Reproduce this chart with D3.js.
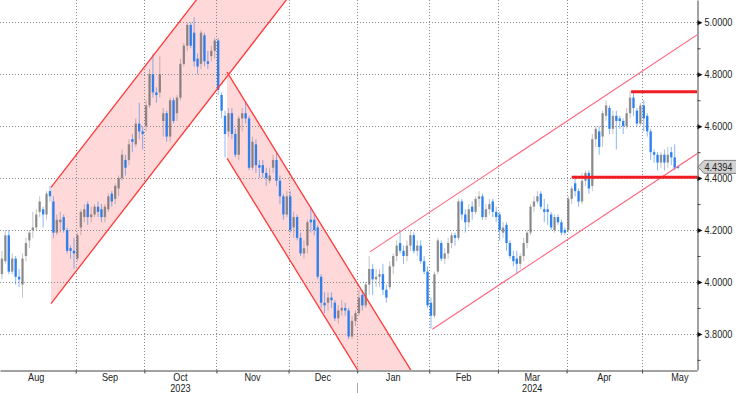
<!DOCTYPE html>
<html>
<head>
<meta charset="utf-8">
<script src="https://cdn.jsdelivr.net/npm/d3@7"></script>
<style>
  html, body { margin: 0; padding: 0; background: #fff; }
  svg { display: block; font-family: "Liberation Sans Narrow", "Arial Narrow", "Liberation Sans", Arial, sans-serif; }
</style>
</head>
<body>
<div id="mount"></div>
<script>
'use strict';

// days with no bar on the time axis
const holidays = ['2023-09-04', '2023-10-09', '2023-11-23', '2023-12-25',
                  '2024-01-01', '2024-01-15', '2024-02-19', '2024-03-29', '2024-05-27'];

// daily bars: [open, high, low, close]
const aug23 = [
  [3.96,4.06,3.95,4.04],[4.03,4.12,4.01,4.09],[4.08,4.20,4.07,4.18],[4.18,4.20,4.03,4.04],
  [4.04,4.11,4.03,4.09],[4.09,4.10,3.99,4.02],[4.02,4.05,3.98,4.01],[3.99,4.11,3.94,4.09],
  [4.10,4.17,4.08,4.15],[4.16,4.20,4.13,4.19],[4.20,4.27,4.17,4.21],[4.21,4.28,4.20,4.26],
  [4.27,4.33,4.25,4.31],[4.28,4.29,4.21,4.26],[4.26,4.35,4.24,4.34],[4.35,4.37,4.31,4.33],
  [4.31,4.33,4.17,4.19],[4.19,4.26,4.18,4.24],[4.23,4.27,4.19,4.24],[4.25,4.26,4.19,4.20],
  [4.20,4.21,4.11,4.12],[4.13,4.14,4.09,4.12],[4.12,4.17,4.05,4.11]
];
const sep23 = [
  [4.09,4.19,4.08,4.18],[4.21,4.28,4.18,4.27],[4.25,4.30,4.23,4.28],[4.30,4.31,4.22,4.25],
  [4.25,4.29,4.23,4.26],[4.26,4.30,4.25,4.29],[4.29,4.31,4.25,4.27],[4.28,4.30,4.23,4.25],
  [4.25,4.30,4.23,4.29],[4.28,4.34,4.27,4.33],[4.34,4.35,4.29,4.31],[4.32,4.38,4.30,4.37],
  [4.36,4.41,4.33,4.40],[4.40,4.51,4.39,4.49],[4.47,4.49,4.41,4.44],[4.47,4.55,4.45,4.53],
  [4.55,4.57,4.50,4.54],[4.53,4.63,4.52,4.61],[4.61,4.69,4.55,4.58],[4.58,4.60,4.51,4.57]
];
const oct23 = [
  [4.60,4.70,4.58,4.68],[4.68,4.82,4.67,4.80],[4.80,4.88,4.71,4.73],[4.73,4.75,4.69,4.72],
  [4.73,4.87,4.71,4.80],[4.62,4.67,4.56,4.65],[4.65,4.66,4.54,4.56],[4.56,4.71,4.54,4.70],
  [4.70,4.71,4.61,4.62],[4.65,4.72,4.62,4.71],[4.71,4.86,4.70,4.84],[4.84,4.92,4.83,4.91],
  [4.91,5.00,4.89,4.99],[4.99,5.00,4.90,4.91],[4.96,5.02,4.83,4.85],[4.86,4.88,4.80,4.83],
  [4.84,4.97,4.82,4.96],[4.95,4.96,4.83,4.85],[4.85,4.89,4.82,4.84],[4.87,4.91,4.85,4.89],
  [4.89,4.94,4.86,4.93]
];
const nov23 = [
  [4.93,4.94,4.72,4.74],[4.72,4.73,4.63,4.66],[4.64,4.66,4.48,4.57],[4.58,4.67,4.56,4.65],
  [4.65,4.67,4.55,4.57],[4.57,4.59,4.48,4.49],[4.49,4.64,4.47,4.63],[4.63,4.67,4.58,4.65],
  [4.65,4.69,4.61,4.63],[4.63,4.64,4.43,4.44],[4.44,4.56,4.43,4.54],[4.53,4.55,4.42,4.45],
  [4.45,4.47,4.40,4.44],[4.45,4.47,4.40,4.42],[4.42,4.44,4.37,4.40],[4.39,4.44,4.38,4.41],
  [4.44,4.49,4.42,4.47],[4.47,4.50,4.37,4.39],[4.39,4.41,4.30,4.33],[4.33,4.34,4.24,4.26],
  [4.26,4.35,4.25,4.33]
];
const dec23 = [
  [4.33,4.35,4.19,4.20],[4.21,4.27,4.17,4.25],[4.25,4.26,4.16,4.17],[4.17,4.19,4.10,4.11],
  [4.11,4.16,4.09,4.13],[4.14,4.24,4.11,4.23],[4.24,4.29,4.19,4.23],[4.24,4.26,4.18,4.20],
  [4.21,4.22,4.01,4.02],[4.02,4.03,3.90,3.92],[3.92,3.96,3.88,3.91],[3.92,3.96,3.89,3.94],
  [3.94,3.96,3.90,3.93],[3.92,3.93,3.85,3.86],[3.86,3.91,3.84,3.89],[3.89,3.93,3.87,3.90],
  [3.90,3.92,3.87,3.89],[3.89,3.90,3.78,3.79],[3.79,3.87,3.78,3.85],[3.85,3.89,3.83,3.88]
];
const jan24 = [
  [3.88,3.97,3.87,3.94],[3.95,3.97,3.89,3.91],[3.91,4.00,3.90,3.99],[3.99,4.10,3.95,4.05],
  [4.05,4.07,3.95,4.01],[4.01,4.05,3.98,4.02],[4.02,4.05,3.98,4.03],[4.03,4.07,3.95,3.97],
  [3.97,3.99,3.92,3.94],[3.98,4.08,3.97,4.06],[4.06,4.11,4.03,4.10],[4.10,4.16,4.08,4.14],
  [4.15,4.20,4.11,4.12],[4.12,4.14,4.07,4.10],[4.10,4.16,4.08,4.14],[4.14,4.20,4.12,4.18],
  [4.18,4.19,4.11,4.12],[4.12,4.16,4.10,4.14],[4.14,4.16,4.07,4.08],[4.08,4.10,4.03,4.04],
  [4.04,4.06,3.90,3.91]
];
const feb24 = [
  [3.92,3.94,3.82,3.87],[3.87,4.04,3.86,4.03],[4.04,4.17,4.03,4.16],[4.15,4.16,4.08,4.09],
  [4.09,4.13,4.07,4.11],[4.11,4.17,4.09,4.15],[4.15,4.19,4.13,4.18],[4.18,4.19,4.14,4.17],
  [4.17,4.32,4.16,4.31],[4.31,4.32,4.24,4.26],[4.26,4.28,4.19,4.23],[4.23,4.30,4.21,4.28],
  [4.29,4.31,4.24,4.27],[4.27,4.33,4.26,4.32],[4.32,4.35,4.29,4.33],[4.33,4.34,4.24,4.25],
  [4.25,4.30,4.24,4.28],[4.28,4.32,4.26,4.30],[4.31,4.32,4.25,4.27],[4.27,4.29,4.23,4.25]
];
const mar24 = [
  [4.26,4.27,4.16,4.20],[4.19,4.23,4.17,4.21],[4.22,4.23,4.12,4.15],[4.15,4.16,4.09,4.10],
  [4.10,4.12,4.06,4.08],[4.09,4.12,4.03,4.07],[4.07,4.11,4.05,4.10],[4.10,4.17,4.08,4.15],
  [4.15,4.20,4.13,4.19],[4.19,4.30,4.18,4.29],[4.29,4.33,4.27,4.31],[4.31,4.35,4.30,4.33],
  [4.34,4.35,4.28,4.29],[4.28,4.32,4.23,4.27],[4.28,4.30,4.22,4.27],[4.26,4.27,4.20,4.21],
  [4.20,4.26,4.19,4.25],[4.25,4.26,4.22,4.23],[4.23,4.24,4.18,4.19],[4.20,4.21,4.18,4.19]
];
const apr24 = [
  [4.20,4.33,4.19,4.32],[4.32,4.37,4.30,4.36],[4.38,4.41,4.33,4.35],[4.35,4.36,4.29,4.31],
  [4.31,4.42,4.30,4.39],[4.39,4.43,4.37,4.42],[4.42,4.43,4.34,4.36],[4.37,4.57,4.35,4.55],
  [4.55,4.60,4.52,4.59],[4.58,4.60,4.49,4.52],[4.56,4.66,4.52,4.65],[4.64,4.70,4.62,4.68],
  [4.67,4.68,4.57,4.59],[4.59,4.66,4.57,4.64],[4.64,4.66,4.51,4.62],[4.63,4.64,4.59,4.62],
  [4.62,4.63,4.57,4.60],[4.60,4.67,4.59,4.65],[4.65,4.735,4.63,4.71],[4.71,4.73,4.64,4.67],
  [4.66,4.67,4.60,4.61],[4.61,4.69,4.60,4.68]
];
const may24 = [
  [4.68,4.70,4.58,4.63],[4.64,4.65,4.56,4.58],[4.58,4.59,4.47,4.50],[4.50,4.51,4.46,4.49],
  [4.49,4.50,4.43,4.46],[4.46,4.50,4.44,4.49],[4.49,4.51,4.43,4.46],[4.46,4.52,4.44,4.49],
  [4.50,4.52,4.45,4.48],[4.48,4.53,4.43,4.44],[4.445,4.45,4.435,4.4394]
];

const lastPrice = 4.4394;
const yTicks = [3.8, 4.0, 4.2, 4.4, 4.6, 4.8, 5.0];
const yMinor = [3.7, 3.9, 4.1, 4.3, 4.5, 4.7, 4.9];

// drawn studies, as [bar index, yield] end points
const upChannelTop = [[15.3, 4.364], [90, 5.638]];
const upChannelBottom = [[15.3, 3.917], [90, 5.191]];
const downChannelTop = [[66.6, 4.808], [130, 3.449]];
const downChannelBottom = [[66.6, 4.476], [130, 3.117]];
const riseTop = [[108.2, 4.116], [205, 4.965]];
const riseBottom = [[126.4, 3.818], [205, 4.507]];
const resistance = [[184.3, 4.733], [205, 4.733]];
const support = [[167.0, 4.403], [205, 4.403]];

const width = 736, height = 393,
      plotW = 697, plotH = 370;

const fmtDay = d3.utcFormat('%Y-%m-%d');
const off = new Set(holidays);
const days = d3.utcDays(new Date(Date.UTC(2023, 7, 1)), new Date(Date.UTC(2024, 5, 1)))
  .filter(d => d.getUTCDay() % 6 !== 0 && !off.has(fmtDay(d)));

const rows = [].concat(aug23, sep23, oct23, nov23, dec23, jan24, feb24, mar24, apr24, may24);
const bars = rows.map((r, i) => ({ i, date: days[i], o: r[0], h: r[1], l: r[2], c: r[3] }));

const months = d3.groups(days.map((d, i) => ({ d, i })), e => d3.utcFormat('%Y-%m')(e.d))
  .map(([key, list]) => ({
    key,
    year: list[0].d.getUTCFullYear(),
    label: d3.utcFormat('%b')(list[0].d),
    first: list[0].i,
    last: list[list.length - 1].i
  }));

const x = d3.scaleLinear().domain([0.44, 203.5]).range([0, plotW]);
const y = d3.scaleLinear().domain([3.661, 5.086]).range([plotH, 0]);

// the terminal font is narrow; squeeze the regular sans to match
function condense(sel) {
  sel.each(function () {
    const w = this.getComputedTextLength();
    d3.select(this).attr('textLength', w * 0.83).attr('lengthAdjust', 'spacingAndGlyphs');
  });
}

const svg = d3.select('#mount').append('svg')
    .attr('width', width)
    .attr('height', height)
    .style('background', '#fff');

svg.append('defs').append('clipPath').attr('id', 'plot')
  .append('rect').attr('width', plotW).attr('height', plotH);

const plot = svg.append('g').attr('clip-path', 'url(#plot)');

// channel fills
const band = (top, bottom) => [top[0], top[1], bottom[1], bottom[0]]
  .map(p => [x(p[0]), y(p[1])].join(',')).join(' ');

plot.append('polygon')
    .attr('points', band(upChannelTop, upChannelBottom))
    .attr('fill', '#ffd9d9');
plot.append('polygon')
    .attr('points', band(downChannelTop, downChannelBottom))
    .attr('fill', '#ffd9d9');

// grid
const boundaries = months.slice(1).map(m => m.first - 0.5);

plot.append('g').selectAll('line').data(yTicks).join('line')
    .attr('x1', 0).attr('x2', plotW)
    .attr('y1', d => Math.round(y(d)) + 0.5).attr('y2', d => Math.round(y(d)) + 0.5)
    .attr('stroke', '#8a8a8a').attr('stroke-dasharray', '1,2');

plot.append('g').selectAll('line').data(boundaries).join('line')
    .attr('x1', d => Math.round(x(d)) + 0.5).attr('x2', d => Math.round(x(d)) + 0.5)
    .attr('y1', 0).attr('y2', plotH)
    .attr('stroke', '#8a8a8a').attr('stroke-dasharray', '1,2');

// candles
const upCol = 'rgba(95,95,95,0.62)', downCol = 'rgba(30,118,236,0.88)';
const colour = d => d.c >= d.o ? upCol : downCol;
const bw = 2.4;

plot.append('g').selectAll('line').data(bars).join('line')
    .attr('x1', d => x(d.i)).attr('x2', d => x(d.i))
    .attr('y1', d => y(d.h)).attr('y2', d => y(d.l))
    .attr('stroke', colour).attr('stroke-opacity', 0.6).attr('stroke-width', 1);

plot.append('g').selectAll('rect').data(bars).join('rect')
    .attr('x', d => x(d.i) - bw / 2)
    .attr('width', bw)
    .attr('y', d => y(Math.max(d.o, d.c)))
    .attr('height', d => Math.max(1, Math.abs(y(d.o) - y(d.c))))
    .attr('fill', colour);

// study lines
const line = d3.line().x(p => x(p[0])).y(p => y(p[1]));

[upChannelTop, upChannelBottom, downChannelTop, downChannelBottom].forEach(seg => {
  plot.append('path').attr('d', line(seg))
      .attr('fill', 'none').attr('stroke', '#ff3838').attr('stroke-width', 1.3);
});
[riseTop, riseBottom].forEach(seg => {
  plot.append('path').attr('d', line(seg))
      .attr('fill', 'none').attr('stroke', '#ff6680').attr('stroke-width', 1.1);
});
[resistance, support].forEach(seg => {
  plot.append('path').attr('d', line(seg))
      .attr('fill', 'none').attr('stroke', '#f21c24').attr('stroke-width', 3);
});

// y axis on the right
const yAxis = svg.append('g')
    .attr('transform', `translate(${plotW + 0.5},0)`)
    .call(d3.axisRight(y).tickValues(yTicks).tickSize(0).tickSizeOuter(0)
      .tickPadding(7).tickFormat(d3.format('.4f')));
yAxis.select('.domain').attr('stroke', '#444');
yAxis.selectAll('text').attr('fill', '#222').style('font-size', '11px').call(condense);

yAxis.selectAll('.tick').append('path')
    .attr('d', 'M0,-2.5L5,0L0,2.5Z')
    .attr('fill', '#111');

const yMinorAxis = svg.append('g')
    .attr('transform', `translate(${plotW + 0.5},0)`)
    .call(d3.axisRight(y).tickValues(yMinor).tickSize(3).tickSizeOuter(0).tickFormat(''));
yMinorAxis.select('.domain').remove();
yMinorAxis.selectAll('line').attr('stroke', '#444');

// x axis
const xAxis = svg.append('g')
    .attr('transform', `translate(0,${plotH + 0.5})`)
    .call(d3.axisBottom(x).tickValues(boundaries).tickSize(3).tickSizeOuter(0).tickFormat(''));
xAxis.select('.domain').attr('stroke', '#444');
xAxis.selectAll('line').attr('stroke', '#444');

const shown = months.filter(m => x(m.first) < plotW);

svg.append('g').selectAll('text').data(shown).join('text')
    .attr('x', m => x((m.first + m.last) / 2))
    .attr('y', 381)
    .attr('text-anchor', 'middle')
    .attr('fill', '#222')
    .style('font-size', '11px')
    .text(m => m.label)
    .call(condense);

const years = d3.groups(shown, m => m.year).map(([yr, list]) => ({ yr, mid: list[Math.floor(list.length / 2)] }));

svg.append('g').selectAll('text').data(years).join('text')
    .attr('x', d => x((d.mid.first + d.mid.last) / 2))
    .attr('y', 392)
    .attr('text-anchor', 'middle')
    .attr('fill', '#222')
    .style('font-size', '11px')
    .text(d => d.yr)
    .call(condense);

// year separator
svg.append('g').selectAll('line').data(shown.filter((m, k) => k > 0 && m.year !== shown[k - 1].year)).join('line')
    .attr('x1', m => Math.round(x(m.first - 0.5)) + 0.5).attr('x2', m => Math.round(x(m.first - 0.5)) + 0.5)
    .attr('y1', 383).attr('y2', height)
    .attr('stroke', '#aaa');

// last price tag
const tag = svg.append('g').attr('transform', `translate(${plotW + 1},${y(lastPrice) - 1})`);
tag.append('path')
    .attr('d', 'M0,0L6,-6.5H40V6.5H6Z')
    .attr('fill', '#d2d2d2').attr('stroke', '#808080');
tag.append('text')
    .attr('x', 6.5).attr('y', 4)
    .attr('fill', '#222')
    .style('font-size', '11px')
    .text(d3.format('.4f')(lastPrice))
    .call(condense);
</script>
</body>
</html>
